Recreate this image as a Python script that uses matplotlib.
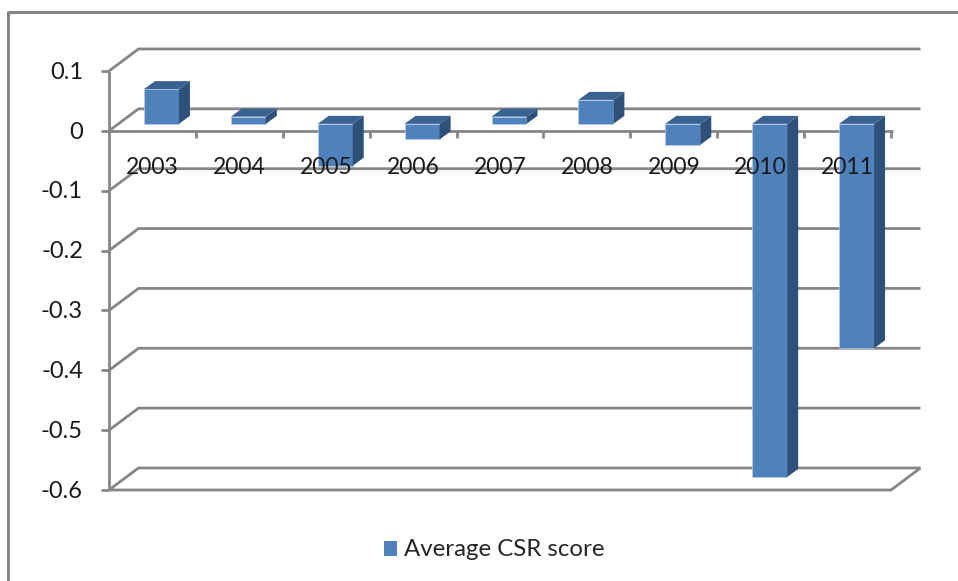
import matplotlib
matplotlib.use("Agg")
import matplotlib.pyplot as plt
from matplotlib.lines import Line2D
from matplotlib.patches import Rectangle

years = ["2003", "2004", "2005", "2006", "2007", "2008", "2009", "2010", "2011"]
csr_score = [0.058, 0.012, -0.07, -0.026, 0.012, 0.04, -0.035, -0.59, -0.375]
y_ticks = [0.1, 0, -0.1, -0.2, -0.3, -0.4, -0.5, -0.6]
y_labels = ["0.1", "0", "-0.1", "-0.2", "-0.3", "-0.4", "-0.5", "-0.6"]
legend_label = "Average CSR score"

W, H = 958, 581
GRID = "#868686"
FRONT = "#4F81BD"
SIDE = "#2F5078"
TOP = "#3A6291"
TEXT = "#1A1A1A"
FONT = "Lato"

# depth of the box and of the bars, in data units
BOX_DX, BOX_DY = 29.5 / 86.9, 22 / 598
BAR_DX, BAR_DY = 11 / 86.9, 8 / 598
SHIFT_DX, SHIFT_DY = 9 / 86.9, 7 / 598
BAR_W = 35 / 86.9


def grid_line(ax, xs, ys, lw=2.0):
    ax.add_line(Line2D(xs, ys, color=GRID, lw=lw, clip_on=False, zorder=1,
                       solid_capstyle="butt"))


def draw_box(ax):
    n = len(years)
    for v in y_ticks:
        grid_line(ax, [0, BOX_DX, n + BOX_DX], [v, v + BOX_DY, v + BOX_DY])
    grid_line(ax, [0, 0], [y_ticks[-1], y_ticks[0]])
    # front edge of the floor
    grid_line(ax, [0, n, n + BOX_DX], [-0.6, -0.6, -0.6 + BOX_DY])
    # zero line with its category ticks
    grid_line(ax, [0, n + 0.02], [0, 0])
    for i in range(1, n + 1):
        grid_line(ax, [i, i], [0, -0.012])
    for v in y_ticks:
        grid_line(ax, [-8 / 86.9, 0], [v, v])


def draw_bar(ax, i, v):
    left = i + (1 - BAR_W) / 2 + SHIFT_DX
    right = left + BAR_W
    base = SHIFT_DY
    end = base + v
    high = max(base, end)
    low = min(base, end)
    ax.bar(left, end - base, width=BAR_W, bottom=base, align="edge", color=FRONT,
           edgecolor="#B9CDE5", linewidth=0.5, zorder=3, clip_on=False)
    ax.fill([right, right + BAR_DX, right + BAR_DX, right],
            [low, low + BAR_DY, high + BAR_DY, high],
            color=SIDE, lw=0, zorder=3, clip_on=False)
    ax.fill([left, left + BAR_DX, right + BAR_DX, right],
            [high, high + BAR_DY, high + BAR_DY, high],
            color=TOP, lw=0, zorder=3, clip_on=False)


fig = plt.figure(figsize=(W / 100, H / 100), dpi=100, facecolor="white")

# outer chart border
fig.add_artist(Line2D([8 / W, 8 / W, 1], [0, 1 - 12 / H, 1 - 12 / H],
                      color=GRID, lw=2.2))

ax = fig.add_axes([109 / W, 1 - 490 / H, 782 / W, 419 / H])
ax.set_xlim(0, len(years))
ax.set_ylim(-0.6, 0.1)
ax.axis("off")

draw_box(ax)
for i, v in enumerate(csr_score):
    draw_bar(ax, i, v)

for i, year in enumerate(years):
    ax.text(i + 0.5, -0.062, year, ha="center", va="center", fontsize=16.5,
            family=FONT, color=TEXT, zorder=4)
for v, label in zip(y_ticks, y_labels):
    ax.text(-0.3, v - 0.002, label, ha="right", va="center", fontsize=17,
            family=FONT, color=TEXT, zorder=4)

# legend sits below the plot
fig.add_artist(Rectangle((384 / W, 1 - 556 / H), 13 / W, 15 / H, color=FRONT, lw=0))
fig.text(404 / W, 1 - 549 / H, legend_label, ha="left", va="center", fontsize=17.3,
         family=FONT, color="#262626")

fig.savefig("out.png", dpi=100)
